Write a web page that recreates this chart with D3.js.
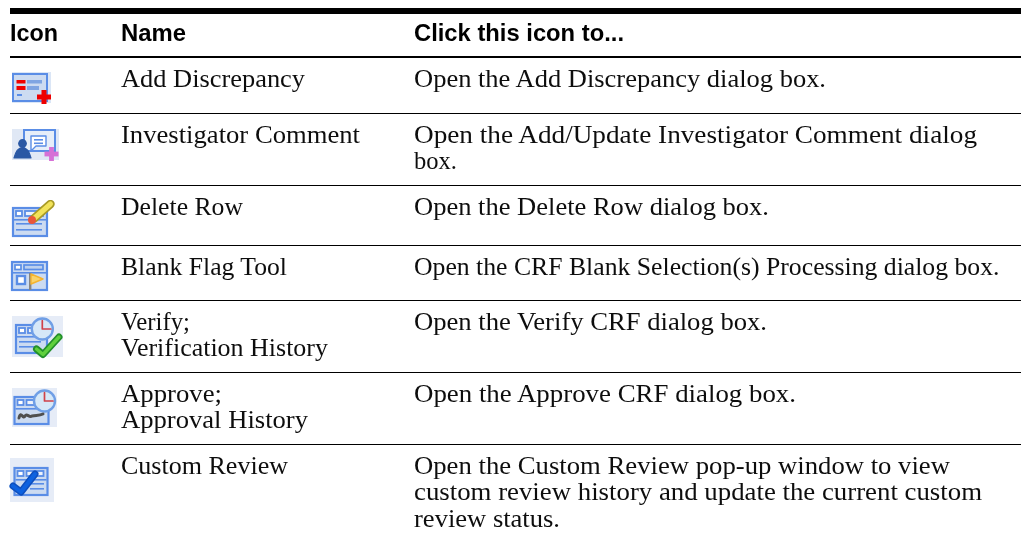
<!DOCTYPE html>
<html>
<head>
<meta charset="utf-8">
<script src="https://cdn.jsdelivr.net/npm/d3@7/dist/d3.min.js"></script>
<style>
	html, body { margin: 0; background: #fff; }
	.head { font-family: "Liberation Sans", Arial, sans-serif; font-weight: bold; font-size: 24px; fill: #000; }
	.cell { font-family: "Liberation Serif", serif; font-size: 25px; fill: #111; }
</style>
</head>
<body>
<div id="chart"></div>
<script>
const headers = ['Icon', 'Name', 'Click this icon to...'];
const iconKeys = ['addDisc', 'investigator', 'deleteRow', 'blankFlag', 'verify', 'approve', 'customReview'];
const names = [
	['Add Discrepancy'],
	['Investigator Comment'],
	['Delete Row'],
	['Blank Flag Tool'],
	['Verify;', 'Verification History'],
	['Approve;', 'Approval History'],
	['Custom Review']
];
const descriptions = [
	['Open the Add Discrepancy dialog box.'],
	['Open the Add/Update Investigator Comment dialog', 'box.'],
	['Open the Delete Row dialog box.'],
	['Open the CRF Blank Selection(s) Processing dialog box.'],
	['Open the Verify CRF dialog box.'],
	['Open the Approve CRF dialog box.'],
	['Open the Custom Review pop-up window to view', 'custom review history and update the current custom', 'review status.']
];

const width = 1021, height = 537;
const columnX = [10, 121, 414];
const headerBaseline = 40.5;
const lineHeight = 26.5;

// where each line of text ends, Palatino is wider than what we have here
const headerEnds = [58, 186, 624];
const nameEnds = [[305], [360], [243], [287], [190, 328], [222, 308], [288]];
const descEnds = [[826], [977, 457], [769], [999.5], [767], [796], [950, 982, 560]];

// row index -> top rule of that row
const rowTop = d3.scaleOrdinal()
	.domain(d3.range(8))
	.range([57, 113, 185, 245, 300, 372, 444, 537]);

const blue = '#5a8de6', pale = '#e6ecf7', paleForm = '#ccdbf1';

const svg = d3.select('#chart').append('svg')
	.attr('width', width)
	.attr('height', height)
	.style('display', 'block');

const defs = svg.append('defs');
defs.append('filter').attr('id', 'soft')
	.append('feGaussianBlur').attr('stdDeviation', 0.7);
defs.append('filter').attr('id', 'softText')
	.attr('x', '-2%').attr('y', '-20%').attr('width', '104%').attr('height', '140%')
	.append('feGaussianBlur').attr('stdDeviation', 0.25);

// ----------------------------------
// rules
// ----------------------------------
svg.append('rect').attr('x', 10).attr('y', 8).attr('width', width - 10).attr('height', 6).attr('fill', '#000');
svg.append('rect').attr('x', 10).attr('y', 56).attr('width', width - 10).attr('height', 2).attr('fill', '#000');
svg.selectAll('line.rule')
	.data(d3.range(1, 7))
	.join('line')
	.attr('class', 'rule')
	.attr('x1', 10).attr('x2', width)
	.attr('y1', d => rowTop(d) + 0.5).attr('y2', d => rowTop(d) + 0.5)
	.attr('stroke', '#000').attr('stroke-width', 1.2);

// ----------------------------------
// text
// ----------------------------------
svg.selectAll('text.head')
	.data(headers)
	.join('text')
	.attr('class', 'head')
	.attr('x', (d, i) => columnX[i])
	.attr('y', headerBaseline)
	.attr('textLength', (d, i) => headerEnds[i] - columnX[i])
	.attr('lengthAdjust', 'spacingAndGlyphs')
	.attr('filter', 'url(#softText)')
	.text(d => d);

function addCells(rows, ends, x){
	rows.forEach((lines, r) => {
		lines.forEach((line, l) => {
			svg.append('text')
				.attr('class', 'cell')
				.attr('x', x)
				.attr('y', rowTop(r) + 29.5 + l * lineHeight)
				.attr('textLength', ends[r][l] - x)
				.attr('lengthAdjust', 'spacingAndGlyphs')
				.attr('filter', 'url(#softText)')
				.text(line);
		});
	});
}
addCells(names, nameEnds, columnX[1]);
addCells(descriptions, descEnds, columnX[2]);

// ----------------------------------
// toolbar icons, each in its own local pixels
// ----------------------------------
function rect(g, x, y, w, h, fill, stroke, sw){
	return g.append('rect').attr('x', x).attr('y', y).attr('width', w).attr('height', h)
		.attr('fill', fill).attr('stroke', stroke || 'none').attr('stroke-width', sw || 0);
}
function poly(g, d, stroke, sw, fill){
	return g.append('path').attr('d', d).attr('stroke', stroke).attr('stroke-width', sw)
		.attr('fill', fill || 'none').attr('stroke-linecap', 'round').attr('stroke-linejoin', 'round');
}
function plus(g, cx, cy, arm, t, color){
	rect(g, cx - arm, cy - t / 2, arm * 2, t, color);
	rect(g, cx - t / 2, cy - arm, t, arm * 2, color);
}
// little form with header squares and text bars
function form(g, x, y, w, h){
	rect(g, x, y, w, h, paleForm, blue, 2.2);
	rect(g, x + 3, y + 3, 6, 5, '#fff', blue, 1.8);
	rect(g, x + 12, y + 3, w - 16, 5, '#eef3fb', blue, 1.8);
	rect(g, x + 1, y + 11, w - 2, 1.6, blue);
}
function clock(g, cx, cy, r){
	g.append('circle').attr('cx', cx).attr('cy', cy).attr('r', r)
		.attr('fill', '#d6e8f8').attr('stroke', '#6f9fe6').attr('stroke-width', 2.4);
	poly(g, `M${cx},${cy - r + 2}V${cy}H${cx + r - 2}`, '#d0424a', 1.7);
}

const iconDraw = {
	addDisc(g){
		rect(g, 0, 0, 39, 31, '#dbe6f6');
		rect(g, 1, 2, 34, 27, paleForm, blue, 2);
		rect(g, 4.5, 8, 9, 3.5, '#f00000');
		rect(g, 4.5, 14, 9, 4, '#f00000');
		rect(g, 15, 8, 15, 3.5, '#7fa5e2');
		rect(g, 15, 14, 12, 4, '#7fa5e2');
		rect(g, 5, 22, 5, 2, blue);
		plus(g, 32, 25, 7, 5, '#ee0000');
	},
	investigator(g){
		rect(g, 0, 0, 47, 31, '#e0e8f5');
		rect(g, 12, 1, 31, 21, '#e6eef9', blue, 2);
		poly(g, 'M19,7H34V17H24L19,22Z', blue, 1.4, '#fff');
		rect(g, 22, 10, 9, 1.6, blue);
		rect(g, 22, 13.5, 9, 1.6, blue);
		g.append('circle').attr('cx', 10.5).attr('cy', 14.5).attr('r', 4.4).attr('fill', '#2a58a4');
		poly(g, 'M2,29C4,21 7,18.5 10.5,18.5C14,18.5 17,21 19,29Z', '#2a58a4', 1.2, '#2a58a4');
		plus(g, 39.5, 25, 7, 4.8, '#d66fd6');
	},
	deleteRow(g){
		form(g, 1, 7, 34, 28);
		rect(g, 4, 22, 26, 1.6, blue);
		rect(g, 4, 28, 26, 1.6, blue);
		poly(g, 'M22,17.5L38.5,3', '#a89a25', 8.5);
		poly(g, 'M22,17.5L38.5,3', '#f2e35a', 5);
		g.append('circle').attr('cx', 20).attr('cy', 19).attr('r', 4).attr('fill', '#e8563a');
	},
	blankFlag(g){
		rect(g, 0, 0, 35, 28, paleForm, blue, 2.2);
		rect(g, 3, 3, 6, 4.5, '#fff', blue, 1.7);
		rect(g, 12, 3, 19, 4.5, '#bcd0ee', blue, 1.7);
		rect(g, 1, 10, 33, 1.6, blue);
		rect(g, 5, 14, 8, 8, '#fff', blue, 2.4);
		rect(g, 17, 11, 2.4, 17, '#858585');
		poly(g, 'M19,12L31,17L19,22Z', '#f5b32f', 1.4, '#fad36a');
	},
	verify(g){
		rect(g, 0, 0, 51, 41, pale);
		form(g, 4, 9, 31, 28);
		rect(g, 7, 25, 22, 1.6, blue);
		rect(g, 7, 30, 17, 1.6, blue);
		clock(g, 30.3, 13, 10.5);
		poly(g, 'M24.5,33L31,38.5L47,21', '#23902a', 7);
		poly(g, 'M24.5,33L31,38.5L47,21', '#5fd03c', 3.4);
	},
	approve(g){
		rect(g, 0, 0, 45, 39, pale);
		form(g, 2.5, 9, 34, 27);
		clock(g, 32.5, 13, 10.5);
		poly(g, 'M7,30C9,22 11,32 13,28C15,25 17,30 20,28C24,27 27,28 31,26', '#4f4f4f', 3);
	},
	customReview(g){
		rect(g, 0, 0, 44, 44, pale);
		form(g, 4.5, 10, 33, 27);
		rect(g, 20, 25, 14, 1.6, blue);
		rect(g, 20, 30, 14, 1.6, blue);
		poly(g, 'M3,28L11,34L25,16', '#0b4fbf', 7);
		poly(g, 'M3,28L11,34L25,16', '#0a62e0', 4);
	}
};

// icon origin: fixed x, offset down from the row's top rule
const iconOffset = {
	addDisc: [12, 15], investigator: [12, 16], deleteRow: [12, 16],
	blankFlag: [12, 17], verify: [12, 16], approve: [12, 16], customReview: [10, 14]
};

iconKeys.forEach((key, r) => {
	const g = svg.append('g')
		.attr('class', 'icon')
		.attr('transform', `translate(${iconOffset[key][0]},${rowTop(r) + iconOffset[key][1]})`)
		.attr('filter', 'url(#soft)');
	iconDraw[key](g);
});
</script>
</body>
</html>
